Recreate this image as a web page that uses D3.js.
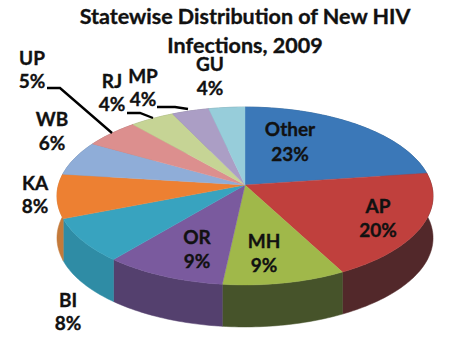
<!DOCTYPE html>
<html>
<head>
<meta charset="utf-8">
<style>
  html, body { margin: 0; padding: 0; background: #fff; }
  svg { display: block; }
  text { font-family: Lato, "Open Sans", sans-serif; font-weight: 700; fill: #111; stroke: #111; stroke-width: 0.35; }
</style>
</head>
<body>
<div id="chart"></div>
<script src="https://cdn.jsdelivr.net/npm/d3@7"></script>
<script>
const states = ['Other', 'AP', 'MH', 'OR', 'BI', 'KA', 'WB', 'UP', 'RJ', 'MP', 'GU'];
const shares = [22.8, 19.5, 9.4, 9.3, 8, 8, 6.3, 5.3, 4.3, 3.6, 3.5];
const titleLines = ['Statewise Distribution of New HIV', 'Infections, 2009'];

const topColors = ['#3b78b8', '#c0403d', '#a0b84a', '#7a5a9e', '#38a3bf', '#ed8032',
                   '#8fadd8', '#dc8f8e', '#c6d495', '#ab9ec5', '#97cdda'];
const wallColors = ['#2a5580', '#52282a', '#46532a', '#54406e', '#2f8ca5', '#c47a3a',
                    '#6a80a0', '#a06a6a', '#929d6e', '#7e7492', '#70979f'];

// Label anchors [x, first baseline, second baseline]
const labelPos = {
  Other: [290, 136, 161], AP: [378, 213, 237], MH: [264, 248, 272], OR: [197, 244, 268],
  BI: [68, 307, 330], KA: [35, 190, 213], WB: [52, 126, 150], UP: [32, 65, 88],
  RJ: [112, 88, 111], MP: [143, 83, 106], GU: [210, 71, 95]
};

// Leader lines: elbow points out from the label, last point is on the rim
const leaders = {
  UP: [[47, 88], [60, 88], [112, 133]],
  RJ: [[127, 113], [140, 113], [153, 118]],
  MP: [[157, 107], [175, 107], [188, 109]]
};

const width = 472, height = 350;

// Tilted disc with a bit of perspective, so the hub sits above the ellipse centre
const hub = { x: 245, y: 185 };
const radiusX = 186.6, radiusY = 87.6, persp = 0.1236, depth = 42;

function project(angle, r = 1) {
  const u = Math.sin(angle) * r;
  const v = -Math.cos(angle) * r;
  const w = 1 - persp * v;
  return [hub.x + radiusX * u / w, hub.y + radiusY * v / w];
}

const svg = d3.select('#chart').append('svg')
  .attr('width', width).attr('height', height)
  .attr('viewBox', `0 0 ${width} ${height}`);

const color = d3.scaleOrdinal().domain(states).range(topColors);
const wallColor = d3.scaleOrdinal().domain(states).range(wallColors);

const pie = d3.pie().sort(null).value(d => d.share);
const slices = pie(states.map((state, i) => ({ state, share: shares[i] })));

const line = d3.line();

function rim(d) {
  const steps = Math.max(2, Math.ceil((d.endAngle - d.startAngle) / 0.02));
  return d3.range(steps + 1).map(i =>
    project(d.startAngle + (d.endAngle - d.startAngle) * i / steps));
}

// Side walls first, the top face covers whatever faces away
svg.append('g').selectAll('path').data(slices).join('path')
  .attr('d', d => {
    const edge = rim(d);
    const lower = edge.map(p => [p[0], p[1] + depth]).reverse();
    return line(edge.concat(lower)) + 'Z';
  })
  .attr('fill', d => wallColor(d.data.state))
  .attr('stroke', d => wallColor(d.data.state))
  .attr('stroke-width', 0.5);

// Top face
svg.append('g').selectAll('path').data(slices).join('path')
  .attr('d', d => line([[hub.x, hub.y]].concat(rim(d))) + 'Z')
  .attr('fill', d => color(d.data.state))
  .attr('stroke', d => color(d.data.state))
  .attr('stroke-width', 0.4);

// Leader lines
svg.append('g').selectAll('path').data(Object.values(leaders)).join('path')
  .attr('d', d => line(d))
  .attr('fill', 'none')
  .attr('stroke', '#000')
  .attr('stroke-width', 2.4);

// Slice labels
const labels = svg.append('g').selectAll('text').data(slices).join('text')
  .attr('text-anchor', 'middle')
  .attr('font-size', 19);
labels.append('tspan')
  .attr('x', d => labelPos[d.data.state][0])
  .attr('y', d => labelPos[d.data.state][1])
  .text(d => d.data.state);
labels.append('tspan')
  .attr('x', d => labelPos[d.data.state][0])
  .attr('y', d => labelPos[d.data.state][2])
  .text(d => `${Math.round(d.data.share)}%`);

// Title
svg.append('g').selectAll('text').data(titleLines).join('text')
  .attr('x', 245)
  .attr('y', (d, i) => 24 + i * 29)
  .attr('text-anchor', 'middle')
  .attr('font-size', 21.5)
  .text(d => d);
</script>
</body>
</html>
